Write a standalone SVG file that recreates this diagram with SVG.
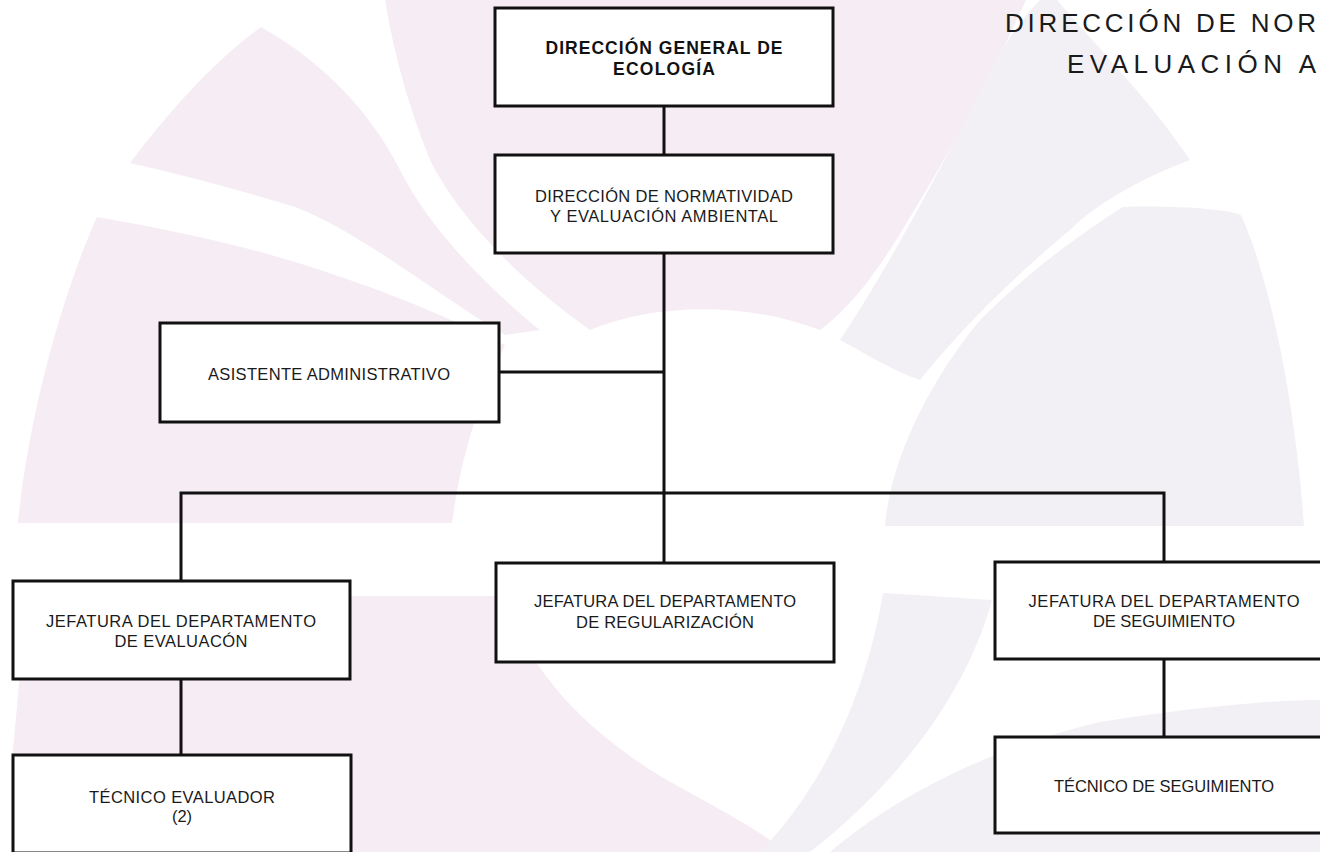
<svg xmlns="http://www.w3.org/2000/svg" width="1320" height="852" viewBox="0 0 1320 852">
<defs>
<style>
.bgp{fill:#f6ecf3;}
.bgl{fill:#f3f0f5;}
.box{fill:#ffffff;stroke:#111111;stroke-width:3;}
.conn{fill:none;stroke:#111111;stroke-width:3;}
.t{font-family:"Liberation Sans",Arial,sans-serif;font-size:16.5px;fill:#1a1a1a;text-anchor:middle;}
.tb{font-family:"Liberation Sans",Arial,sans-serif;font-size:17.5px;font-weight:bold;fill:#111111;text-anchor:middle;}
.title{font-family:"Liberation Sans",Arial,sans-serif;font-size:26px;fill:#1a1a1a;}
</style>
</defs>
<rect x="0" y="0" width="1320" height="852" fill="#ffffff"/>
<g id="watermark">
<path class="bgp" d="M261,27 C320,60 370,110 400,170 C430,230 490,290 540,330 L505,335 C430,290 360,232 295,207 C230,187 170,172 130,163 C170,110 215,60 261,27 Z"/>
<path class="bgp" d="M385,0 L1026,0 C990,80 940,170 890,250 C860,295 840,315 820,330 C740,300 650,305 590,330 C520,280 460,220 430,160 C410,110 395,60 385,0 Z"/>
<path class="bgp" d="M97,217 C160,228 230,242 295,262 C360,282 430,308 505,345 C480,400 462,450 452,523 L18,523 C28,420 60,300 97,217 Z"/>
<path class="bgp" d="M25,596 L505,596 C525,660 570,720 660,776 C720,810 760,830 786,852 L12,852 L12,760 C18,700 22,650 25,596 Z"/>
<path class="bgl" d="M883,593 L992,600 C965,700 890,790 810,852 L760,852 C820,790 865,700 883,593 Z"/>
<path class="bgl" d="M830,852 C900,792 1000,745 1100,722 C1200,706 1280,700 1320,700 L1320,852 Z"/>
<path class="bgl" d="M1123,207 C1180,205 1230,210 1241,215 C1270,280 1295,400 1304,526 L885,526 C890,460 930,380 980,320 C1020,280 1070,240 1123,207 Z"/>
<path class="bgl" d="M1057,0 C1100,50 1150,100 1190,160 C1150,175 1100,200 1070,230 C1010,280 960,330 920,380 C890,370 860,350 840,340 C880,280 930,190 970,110 C990,70 1010,30 1040,0 Z"/>
</g>
<g id="title">
<text class="title" x="1005" y="32" textLength="311">DIRECCIÓN DE NOR</text>
<text class="title" x="1067" y="73" textLength="249">EVALUACIÓN A</text>
</g>
<g id="connectors">
<line class="conn" x1="664" y1="106" x2="664" y2="155"/>
<line class="conn" x1="664" y1="253" x2="664" y2="563"/>
<line class="conn" x1="499" y1="372" x2="664" y2="372"/>
<polyline class="conn" points="181,581 181,493 1164,493 1164,562"/>
<line class="conn" x1="181" y1="679" x2="181" y2="755"/>
<line class="conn" x1="1164" y1="659" x2="1164" y2="737"/>
</g>
<g id="n1">
<rect class="box" x="495" y="8" width="338" height="98"/>
<text class="tb" x="664" y="54" textLength="237">DIRECCIÓN GENERAL DE</text>
<text class="tb" x="664" y="75" textLength="102">ECOLOGÍA</text>
</g>
<g id="n2">
<rect class="box" x="495" y="155" width="338" height="98"/>
<text class="t" x="664" y="202" textLength="258">DIRECCIÓN DE NORMATIVIDAD</text>
<text class="t" x="664" y="222" textLength="228">Y EVALUACIÓN AMBIENTAL</text>
</g>
<g id="n3">
<rect class="box" x="160" y="323" width="339" height="99"/>
<text class="t" x="329" y="380" textLength="242">ASISTENTE ADMINISTRATIVO</text>
</g>
<g id="n4">
<rect class="box" x="13" y="581" width="337" height="98"/>
<text class="t" x="181" y="627" textLength="270">JEFATURA DEL DEPARTAMENTO</text>
<text class="t" x="181" y="647" textLength="133">DE EVALUACÓN</text>
</g>
<g id="n5">
<rect class="box" x="496" y="563" width="338" height="99"/>
<text class="t" x="665" y="607" textLength="262">JEFATURA DEL DEPARTAMENTO</text>
<text class="t" x="665" y="628" textLength="178">DE REGULARIZACIÓN</text>
</g>
<g id="n6">
<rect class="box" x="995" y="562" width="338" height="97"/>
<text class="t" x="1164" y="607" textLength="271">JEFATURA DEL DEPARTAMENTO</text>
<text class="t" x="1164" y="627" textLength="142">DE SEGUIMIENTO</text>
</g>
<g id="n7">
<rect class="box" x="13" y="755" width="338" height="98"/>
<text class="t" x="182" y="803" textLength="186">TÉCNICO EVALUADOR</text>
<text class="t" x="182" y="822">(2)</text>
</g>
<g id="n8">
<rect class="box" x="995" y="737" width="338" height="96"/>
<text class="t" x="1164" y="792" textLength="220">TÉCNICO DE SEGUIMIENTO</text>
</g>
</svg>
